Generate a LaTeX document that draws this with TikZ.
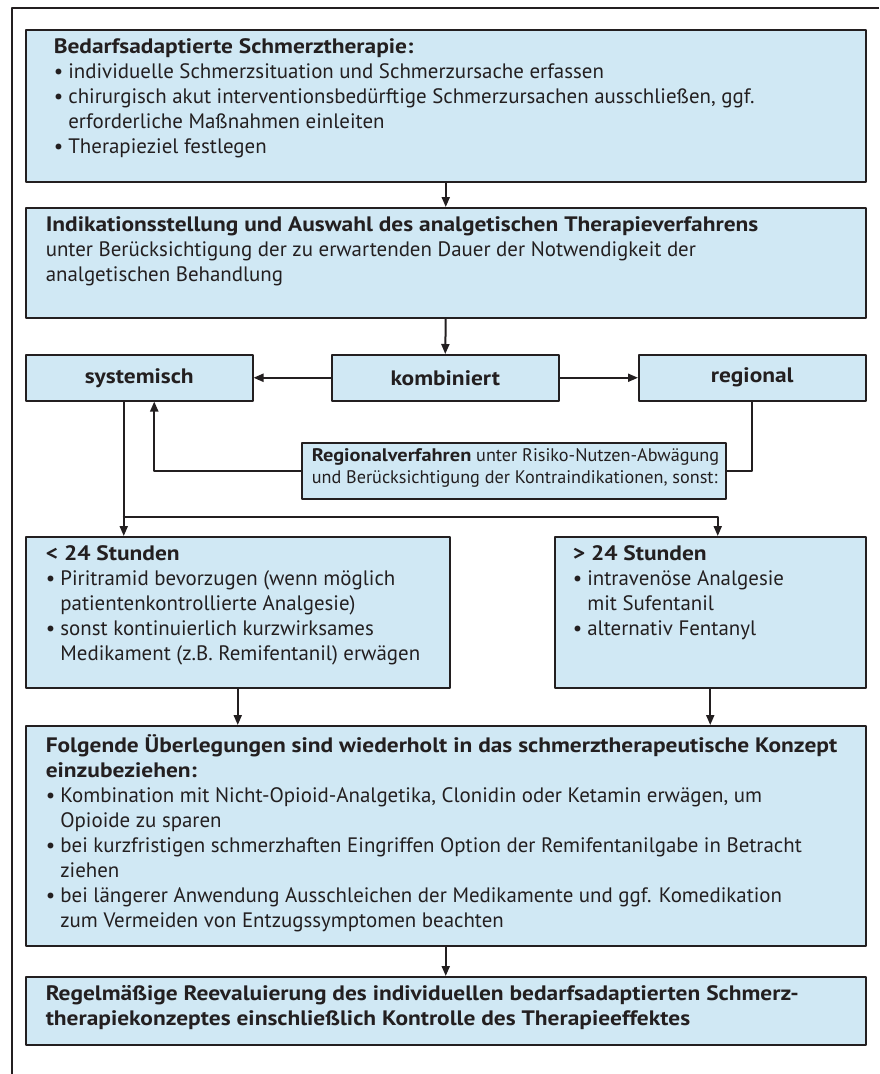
\documentclass[tikz,border=0pt]{standalone}
\usepackage{fontspec}
\setmainfont{PT Sans}[BoldFeatures={FakeStretch=1.12}]
\usepackage{tikz}
\usetikzlibrary{arrows.meta,calc}
\definecolor{boxblue}{RGB}{208,232,244}
\definecolor{inkgray}{RGB}{35,31,32}
\tikzset{
  every picture/.append style={line cap=round,line join=round},
  flow box/.style={draw=inkgray,fill=boxblue,line width=1.5pt,anchor=north west,
    inner xsep=20pt,inner ysep=0pt,text=inkgray,
    font=\fontsize{20.9}{25}\selectfont},
  flow head/.style={flow box,align=center,inner xsep=0pt,minimum width=227pt,
    minimum height=46pt,font=\fontsize{20.9}{25}\selectfont\bfseries},
  flow arrow/.style={draw=inkgray,line width=2pt,-{Triangle[length=10pt,width=8pt]}},
  flow line/.style={draw=inkgray,line width=2pt}
}
\newcommand{\bul}{\makebox[0.7em][l]{\textbullet}}
\newcommand{\cnt}{\hspace*{0.7em}}
\newcommand{\boxtext}[3]{\parbox[c][#1][t]{#2}{\raggedright\vspace*{9pt}#3}}

\begin{document}
\begin{tikzpicture}[x=1pt,y=-1pt]
  \useasboundingbox (0,0) rectangle (879,1074);
  % outer frame (only top and left edge visible)
  \draw[inkgray,line width=2.5pt,line cap=butt] (879,8) -- (12,8) -- (12,1074);

  \node[flow box,inner xsep=28pt] (need) at (25,29)
    {\boxtext{152pt}{784pt}{\textbf{Bedarfsadaptierte Schmerztherapie:}\\
     \bul individuelle Schmerzsituation und Schmerzursache erfassen\\
     \bul chirurgisch akut interventionsbedürftige Schmerzursachen ausschließen, ggf.\\
     \cnt erforderliche Maßnahmen einleiten\\
     \bul Therapieziel festlegen}};
  \node[flow box] (indik) at (25,207)
    {\boxtext{110pt}{800pt}{\textbf{Indikationsstellung und Auswahl des analgetischen Therapieverfahrens}\\
     unter Berücksichtigung der zu erwartenden Dauer der Notwendigkeit der\\
     analgetischen Behandlung}};

  \node[flow head] (syst) at (25,354) {systemisch};
  \node[flow head] (kombi) at (331,354) {kombiniert};
  \node[flow head] (reg) at (638,354) {regional};

  \node[flow box,inner xsep=10pt,font=\fontsize{18.2}{22}\selectfont] (note) at (301,442)
    {\boxtext{56pt}{404pt}{\vspace*{-3pt}\mbox{\textbf{Regionalverfahren} unter Risiko-Nutzen-Abwägung}\\
     \mbox{und Berücksichtigung der Kontraindikationen, sonst:}}};

  \node[flow box] (lt) at (25,536)
    {\boxtext{151pt}{384pt}{\textbf{< 24 Stunden}\\
     \bul Piritramid bevorzugen (wenn möglich\\
     \cnt patientenkontrollierte Analgesie)\\
     \bul sonst kontinuierlich kurzwirksames\\
     \cnt Medikament (z.B. Remifentanil) erwägen}};
  \node[flow box,inner xsep=18pt] (gt) at (554,536)
    {\boxtext{151pt}{275pt}{\textbf{> 24 Stunden}\\
     \bul intravenöse Analgesie\\
     \cnt mit Sufentanil\\
     \bul alternativ Fentanyl}};

  \node[flow box] (big) at (25,725)
    {\boxtext{220pt}{800pt}{\textbf{Folgende Überlegungen sind wiederholt in das schmerztherapeutische Konzept}\\
     \textbf{einzubeziehen:}\\
     \bul Kombination mit Nicht-Opioid-Analgetika, Clonidin oder Ketamin erwägen, um\\
     \cnt Opioide zu sparen\\
     \bul bei kurzfristigen schmerzhaften Eingriffen Option der Remifentanilgabe in Betracht\\
     \cnt ziehen\\
     \bul bei längerer Anwendung Ausschleichen der Medikamente und ggf. Komedikation\\
     \cnt zum Vermeiden von Entzugssymptomen beachten}};

  \node[flow box,font=\fontsize{20.9}{25}\selectfont\bfseries] (final) at (25,976)
    {\boxtext{68pt}{800pt}{\mbox{Regelmäßige Reevaluierung des individuellen bedarfsadaptierten Schmerz-}\\
     \mbox{therapiekonzeptes einschließlich Kontrolle des Therapieeffektes}}};

  % connectors
  \draw[flow arrow] (need.south) -- (indik.north);
  \draw[flow arrow] (indik.south) -- (kombi.north);
  \draw[flow arrow] (kombi.west) -- (syst.east);
  \draw[flow arrow] (kombi.east) -- (reg.west);
  \draw[flow line] (reg.south) |- (note.east);
  \draw[flow arrow] (note.west) -| ([xshift=15pt]syst.south);
  \coordinate (sdown) at ([xshift=-15.5pt]syst.south);
  \coordinate (split) at (sdown |- 0,517);
  \draw[flow arrow] (sdown) -- (sdown |- lt.north);
  \draw[flow arrow] (split) -| ([xshift=7.5pt]gt.north);
  \draw[flow arrow] (lt.south) -- (lt.south |- big.north);
  \draw[flow arrow] (gt.south) -- (gt.south |- big.north);
  \draw[flow arrow] (big.south) -- (final.north);
\end{tikzpicture}
\end{document}
